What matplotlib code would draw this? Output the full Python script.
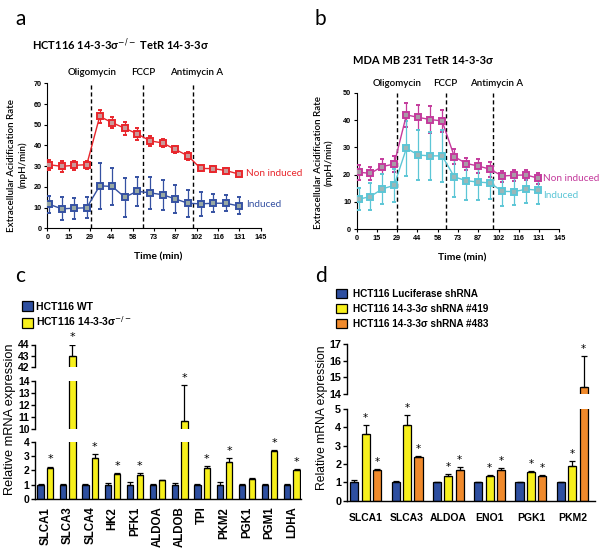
import numpy as np
import matplotlib
matplotlib.use('Agg')
import matplotlib.pyplot as plt
from matplotlib.patches import Patch

# ---- data ------------------------------------------------------------
time_min = [1.3, 9.8, 18.3, 26.8, 35.6, 44.1, 52.6, 61.1, 69.9, 78.4, 86.9, 95.5, 104.2, 112.7, 121.3, 130.0]
time_ticks = ['0', '15', '29', '44', '58', '73', '87', '102', '116', '131', '145']
drugs = ['Oligomycin', 'FCCP', 'Antimycin A']

noninduced_a = [30.7, 29.9, 30.4, 30.7, 54.0, 51.0, 48.3, 45.6, 42.2, 41.2, 38.1, 35.0, 28.9, 28.8, 27.9, 26.2]
noninduced_a_err = [2.5, 2.5, 2.3, 2.0, 3.0, 2.8, 3.2, 3.0, 2.4, 1.8, 1.8, 1.8, 1.4, 1.4, 1.4, 1.4]
induced_a = [11.6, 9.4, 9.7, 9.9, 20.5, 20.2, 15.0, 17.9, 17.1, 16.2, 14.2, 12.1, 11.8, 12.1, 12.1, 10.8]
induced_a_err = [4.2, 5.5, 5.0, 5.0, 11.0, 9.0, 9.4, 7.0, 7.8, 7.3, 6.6, 6.5, 5.7, 4.3, 3.9, 4.1]
injections_a = [29.7, 65.3, 98.9]

noninduced_b = [20.9, 20.5, 23.0, 23.9, 41.9, 41.0, 40.2, 39.7, 26.6, 24.1, 23.2, 22.0, 19.5, 19.8, 19.9, 18.7]
noninduced_b_err = [2.7, 2.5, 2.8, 2.8, 4.3, 4.7, 5.0, 4.0, 2.8, 2.2, 2.6, 2.8, 2.0, 2.0, 2.0, 2.0]
induced_b = [11.0, 12.0, 14.8, 16.1, 29.7, 27.2, 26.9, 26.9, 19.2, 17.8, 17.3, 17.0, 13.9, 13.8, 14.7, 14.3]
induced_b_err = [4.0, 4.8, 5.5, 6.0, 10.0, 9.0, 8.8, 9.5, 7.5, 7.0, 6.5, 6.0, 5.5, 5.0, 5.0, 5.0]
injections_b = [28.6, 63.7, 97.8]

genes_c = ['SLCA1', 'SLCA3', 'SLCA4', 'HK2', 'PFK1', 'ALDOA', 'ALDOB', 'TPI', 'PKM2', 'PGK1', 'PGM1', 'LDHA']
wt_c = [1.0, 1.0, 1.0, 1.0, 1.0, 1.0, 1.0, 1.0, 1.0, 1.0, 1.0, 1.0]
wt_c_err = [0.02, 0.03, 0.03, 0.08, 0.15, 0.03, 0.1, 0.04, 0.18, 0.02, 0.03, 0.03]
ko_c = [2.18, 43.0, 2.88, 1.72, 1.70, 1.31, 10.7, 2.13, 2.6, 1.36, 3.33, 2.0]
ko_c_err = [0.08, 1.0, 0.25, 0.08, 0.08, 0.04, 3.0, 0.18, 0.22, 0.12, 0.05, 0.08]
ko_c_sig = [1, 1, 1, 1, 1, 0, 1, 1, 1, 0, 1, 1]

genes_d = ['SLCA1', 'SLCA3', 'ALDOA', 'ENO1', 'PGK1', 'PKM2']
luc_d = [1.0, 1.0, 1.0, 1.0, 1.0, 1.0]
luc_d_err = [0.12, 0.1, 0.03, 0.03, 0.03, 0.03]
sh419_d = [3.65, 4.15, 1.37, 1.35, 1.58, 1.9]
sh419_d_err = [0.5, 0.5, 0.08, 0.03, 0.06, 0.27]
sh483_d = [1.65, 2.38, 1.7, 1.68, 1.35, 14.4]
sh483_d_err = [0.08, 0.08, 0.14, 0.1, 0.05, 1.9]

# ---- style -----------------------------------------------------------
W, H = 601, 554
CAL = ['Lato', 'DejaVu Sans']
ARIAL = ['Liberation Sans', 'DejaVu Sans']
BLUE_BAR = '#2e4fa0'
YELLOW = '#f7f01c'
ORANGE = '#f08a2c'


def rect(l, t, r, b):
    return [l / W, 1 - b / H, (r - l) / W, (b - t) / H]


def ftext(x, y, s, **kw):
    fig.text(x / W, 1 - y / H, s, **kw)


def style_ticks(ax, size, family, weight='bold'):
    for lab in ax.get_xticklabels() + ax.get_yticklabels():
        lab.set_fontsize(size)
        lab.set_family(family)
        lab.set_weight(weight)


fig = plt.figure(figsize=(W / 100, H / 100), dpi=100)

# ---- panels a, b -----------------------------------------------------
def seahorse(ax, top, noninduced, nerr, induced, ierr, injections, c1, f1, c2, f2):
    for x in injections:
        ax.axvline(x, color='black', ls=(0, (3, 2)), lw=1.0, zorder=1)
    for y, e, c, f in [(noninduced, nerr, c1, f1), (induced, ierr, c2, f2)]:
        ax.errorbar(time_min, y, yerr=e, color=c, lw=1.0, elinewidth=0.9,
                    capsize=1.6, capthick=0.9, marker='s', ms=4.8,
                    mfc=f, mec=c, mew=1.4, zorder=3)
    ax.set_xlim(0, 145)
    ax.set_ylim(0, top)
    ax.set_xticks(np.linspace(0, 145, 11))
    ax.set_xticklabels(time_ticks)
    ax.set_yticks(np.arange(0, top + 1, 10))
    for s in ['top', 'right']:
        ax.spines[s].set_visible(False)
    for s in ['left', 'bottom']:
        ax.spines[s].set_linewidth(0.8)
    ax.tick_params(length=2.5, width=0.8, pad=1.5)
    style_ticks(ax, 5.2, ARIAL)


ax_a = fig.add_axes(rect(47.3, 83.3, 260.7, 228.3))
seahorse(ax_a, 70, noninduced_a, noninduced_a_err, induced_a, induced_a_err,
         injections_a, '#e8262c', '#c99a9a', '#3551a2', '#98a8a2')
ax_a.text(135, 26.6, 'Non induced', color='#e8262c', fontsize=7.2, family=CAL,
          va='center', clip_on=False)
ax_a.text(135, 11.6, 'Induced', color='#3551a2', fontsize=7.2, family=CAL,
          va='center', clip_on=False)

ax_b = fig.add_axes(rect(356.7, 92.8, 559.3, 229.3))
seahorse(ax_b, 50, noninduced_b, noninduced_b_err, induced_b, induced_b_err,
         injections_b, '#c43a9c', '#a99aa6', '#5cc6d6', '#9bb7b8')
ax_b.text(133.5, 18.5, 'Non induced', color='#c43a9c', fontsize=7.2, family=CAL,
          va='center', clip_on=False)
ax_b.text(133.5, 12.5, 'Induced', color='#5cc6d6', fontsize=7.2, family=CAL,
          va='center', clip_on=False)

ftext(15, 25, 'a', fontsize=15, family=CAL)
ftext(315, 25, 'b', fontsize=15, family=CAL)
ftext(32, 45, 'HCT116 14-3-3σ$^{-/-}$ TetR 14-3-3σ', fontsize=8, family=CAL,
      weight='bold', va='center')
ftext(353, 60, 'MDA MB 231 TetR 14-3-3σ', fontsize=8, family=CAL,
      weight='bold', va='center')
for x, s in zip([91.7, 143.3, 196.7], drugs):
    ftext(x, 72.7, s, fontsize=7, family=CAL, weight='semibold', ha='center', va='center')
for x, s in zip([396.7, 445.7, 496.7], drugs):
    ftext(x, 83.3, s, fontsize=7, family=CAL, weight='semibold', ha='center', va='center')
ylab = 'Extracellular Acidification Rate\n(mpH/min)'
ftext(17.5, 165, ylab, fontsize=7, family=CAL, weight='semibold', rotation=90,
      ha='center', va='center', multialignment='center', linespacing=1.2)
ftext(324, 162.5, ylab, fontsize=7, family=CAL, weight='semibold', rotation=90,
      ha='center', va='center', multialignment='center', linespacing=1.2)
ftext(157.7, 256.7, 'Time (min)', fontsize=7.5, family=CAL, weight='bold',
      ha='center', va='center')
ftext(461.7, 257.7, 'Time (min)', fontsize=7.5, family=CAL, weight='bold',
      ha='center', va='center')

# ---- panel c (broken axis) ------------------------------------------
xc = np.arange(len(genes_c))
segs_c = [((0, 4), (35, 441.5, 301, 499), [0, 1, 2, 3, 4]),
          ((10, 14), (35, 381, 301, 429), [10, 11, 12, 13, 14]),
          ((42, 44), (35, 344.5, 301, 367.3), [42, 43, 44])]
for k, (lim, box, ticks) in enumerate(segs_c):
    ax = fig.add_axes(rect(*box))
    ax.bar(xc - 0.21, wt_c, 0.28, color=BLUE_BAR, edgecolor='black', lw=0.9)
    ax.bar(xc + 0.21, ko_c, 0.28, color=YELLOW, edgecolor='black', lw=0.9)
    ax.errorbar(xc - 0.21, wt_c, yerr=[np.zeros(len(xc)), wt_c_err], fmt='none',
                ecolor='black', elinewidth=0.9, capsize=2.2, capthick=0.9)
    ax.errorbar(xc + 0.21, ko_c, yerr=[np.zeros(len(xc)), ko_c_err], fmt='none',
                ecolor='black', elinewidth=0.9, capsize=2.2, capthick=0.9)
    for x, v, e, s in zip(xc + 0.21, ko_c, ko_c_err, ko_c_sig):
        if s and lim[0] <= v + e <= lim[1]:
            ax.annotate('*', (x, v + e), xytext=(0, 1.5), textcoords='offset points',
                        ha='center', va='bottom', fontsize=8, annotation_clip=False)
    ax.set_xlim(-0.46, 11.41)
    ax.set_ylim(*lim)
    ax.set_yticks(ticks)
    for s in ['top', 'right']:
        ax.spines[s].set_visible(False)
    ax.spines['left'].set_linewidth(1.0)
    ax.spines['bottom'].set_linewidth(1.0)
    ax.tick_params(axis='y', length=3, width=1.0, pad=1)
    if k == 0:
        ax.set_xticks(xc)
        ax.set_xticklabels(genes_c, rotation=90)
        ax.tick_params(axis='x', length=0, pad=5.5)
    else:
        ax.spines['bottom'].set_visible(False)
        ax.set_xticks([])
    style_ticks(ax, 7.5, ARIAL)
    for lab in ax.get_xticklabels():
        lab.set_fontsize(8.3)

ftext(15, 281.7, 'c', fontsize=15, family=CAL)
ftext(10, 419, 'Relative mRNA expression', fontsize=9.2, family=ARIAL,
      rotation=90, ha='center', va='center')
leg_c = [Patch(facecolor=BLUE_BAR, edgecolor='black', lw=0.9, label='HCT116 WT'),
         Patch(facecolor=YELLOW, edgecolor='black', lw=0.9,
               label='HCT116 14-3-3σ$^{-/-}$')]
fig.legend(handles=leg_c, loc='upper left', bbox_to_anchor=(21.7 / W, 1 - 301 / H),
           frameon=False, borderpad=0, borderaxespad=0, handlelength=1.1,
           handleheight=1.1, handletextpad=0.25, labelspacing=0.3,
           prop={'family': ARIAL, 'weight': 'bold', 'size': 7.5})

# ---- panel d (broken axis) ------------------------------------------
xd = np.arange(len(genes_d))
segs_d = [((0, 5), (346.7, 409, 595, 500.7), [0, 1, 2, 3, 4, 5]),
          ((14, 17), (346.7, 344.3, 595, 394), [14, 15, 16, 17])]
series_d = [(-0.275, luc_d, luc_d_err, BLUE_BAR, False),
            (0.0, sh419_d, sh419_d_err, YELLOW, True),
            (0.275, sh483_d, sh483_d_err, ORANGE, True)]
for k, (lim, box, ticks) in enumerate(segs_d):
    ax = fig.add_axes(rect(*box))
    for off, vals, errs, col, sig in series_d:
        ax.bar(xd + off, vals, 0.2, color=col, edgecolor='black', lw=0.9)
        ax.errorbar(xd + off, vals, yerr=[np.zeros(len(xd)), errs], fmt='none',
                    ecolor='black', elinewidth=0.9, capsize=2.2, capthick=0.9)
        for x, v, e in zip(xd + off, vals, errs):
            if sig and lim[0] <= v + e <= lim[1]:
                ax.annotate('*', (x, v + e), xytext=(0, 1.5), textcoords='offset points',
                            ha='center', va='bottom', fontsize=7.5, annotation_clip=False)
    ax.set_xlim(-0.46, 5.55)
    ax.set_ylim(*lim)
    ax.set_yticks(ticks)
    for s in ['top', 'right']:
        ax.spines[s].set_visible(False)
    ax.spines['left'].set_linewidth(1.0)
    ax.spines['bottom'].set_linewidth(1.0)
    ax.tick_params(axis='y', length=3, width=1.0, pad=1)
    if k == 0:
        ax.set_xticks(xd)
        ax.set_xticklabels(genes_d)
        ax.tick_params(axis='x', length=0, pad=9)
    else:
        ax.spines['bottom'].set_visible(False)
        ax.set_xticks([])
    style_ticks(ax, 7.8, ARIAL)
    for lab in ax.get_xticklabels():
        lab.set_fontsize(7.5)

ftext(315, 281.7, 'd', fontsize=15, family=CAL)
ftext(321.7, 417.5, 'Relative mRNA expression', fontsize=8.7, family=ARIAL,
      rotation=90, ha='center', va='center')
leg_d = [Patch(facecolor=BLUE_BAR, edgecolor='black', lw=0.9, label='HCT116 Luciferase shRNA'),
         Patch(facecolor=YELLOW, edgecolor='black', lw=0.9, label='HCT116 14-3-3σ shRNA #419'),
         Patch(facecolor=ORANGE, edgecolor='black', lw=0.9, label='HCT116 14-3-3σ shRNA #483')]
fig.legend(handles=leg_d, loc='upper left', bbox_to_anchor=(336 / W, 1 - 289 / H),
           frameon=False, borderpad=0, borderaxespad=0, handlelength=1.1,
           handleheight=1.0, handletextpad=0.6, labelspacing=0.5,
           prop={'family': ARIAL, 'weight': 'bold', 'size': 7.2})

fig.savefig('out.png', dpi=100)
